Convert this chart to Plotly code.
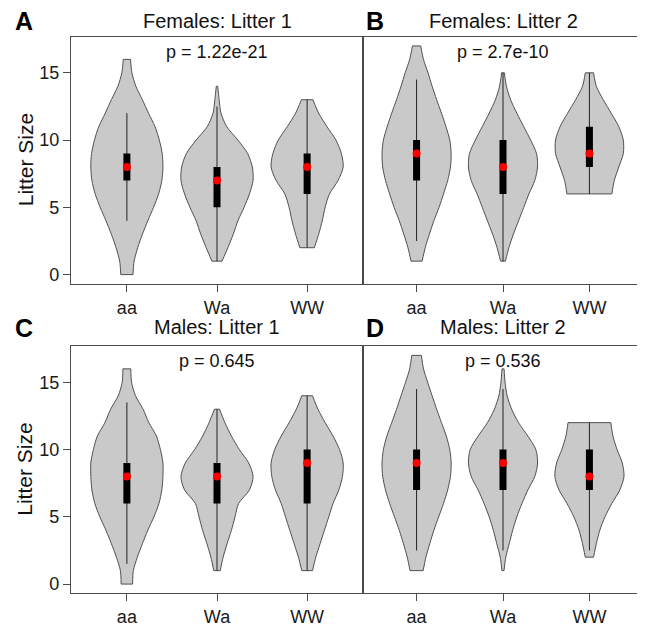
import plotly.graph_objects as go

# the page body has an 8px default margin, so the figure is drawn 8px in from the corner
OFF = 8
W, H = 645 - OFF, 627 - OFF

genotypes = ["aa", "Wa", "WW"]
panel_letters = ["A", "B", "C", "D"]
panel_titles = ["Females: Litter 1", "Females: Litter 2", "Males: Litter 1", "Males: Litter 2"]
p_labels = ["p = 1.22e-21", "p = 2.7e-10", "p = 0.645", "p = 0.536"]
y_ticks = [0, 5, 10, 15]

# violin range (min, max litter size) per panel, per genotype
vio_min = [[0, 1, 2], [1, 1, 6], [0, 1, 1], [1, 1, 2]]
vio_max = [[16, 14, 13], [17, 15, 15], [16, 13, 14], [17, 16, 12]]

# relative half-width of each violin at integer litter sizes (from min to max)
dens_A_aa = [0.17, 0.20, 0.30, 0.43, 0.58, 0.74, 0.88, 0.97, 1.00, 0.98, 0.90, 0.78, 0.60, 0.43, 0.25, 0.14, 0.10]
dens_A_Wa = [0.14, 0.30, 0.45, 0.58, 0.75, 0.90, 1.00, 0.98, 0.85, 0.58, 0.27, 0.11, 0.06, 0.02]
dens_A_WW = [0.20, 0.32, 0.42, 0.50, 0.62, 0.86, 1.00, 0.95, 0.80, 0.55, 0.32, 0.16]
dens_B_aa = [0.16, 0.25, 0.37, 0.50, 0.65, 0.78, 0.90, 0.98, 1.00, 0.96, 0.85, 0.72, 0.58, 0.45, 0.33, 0.20, 0.12]
dens_B_Wa = [0.07, 0.17, 0.30, 0.45, 0.60, 0.75, 0.92, 1.00, 0.97, 0.80, 0.60, 0.40, 0.22, 0.10, 0.04]
dens_B_WW = [0.65, 0.72, 0.85, 0.98, 0.98, 0.85, 0.63, 0.40, 0.20, 0.12]
dens_C_aa = [0.16, 0.18, 0.29, 0.43, 0.58, 0.75, 0.89, 0.97, 1.00, 1.00, 0.93, 0.82, 0.61, 0.45, 0.24, 0.13, 0.11]
dens_C_Wa = [0.09, 0.17, 0.28, 0.40, 0.50, 0.60, 0.90, 1.00, 0.88, 0.62, 0.40, 0.22, 0.07]
dens_C_WW = [0.15, 0.24, 0.36, 0.48, 0.60, 0.72, 0.88, 0.98, 1.00, 0.90, 0.72, 0.50, 0.30, 0.15]
dens_D_aa = [0.19, 0.27, 0.38, 0.50, 0.64, 0.78, 0.90, 0.98, 1.00, 0.96, 0.86, 0.72, 0.58, 0.45, 0.32, 0.20, 0.14]
dens_D_Wa = [0.03, 0.08, 0.18, 0.28, 0.40, 0.55, 0.72, 0.92, 1.00, 0.95, 0.72, 0.45, 0.25, 0.12, 0.06, 0.03]
dens_D_WW = [0.12, 0.20, 0.30, 0.45, 0.65, 0.88, 1.00, 0.95, 0.80, 0.68, 0.62]

densities = [
    [dens_A_aa, dens_A_Wa, dens_A_WW],
    [dens_B_aa, dens_B_Wa, dens_B_WW],
    [dens_C_aa, dens_C_Wa, dens_C_WW],
    [dens_D_aa, dens_D_Wa, dens_D_WW],
]

# box statistics per panel, per genotype
medians = [[8, 7, 8], [9, 8, 9], [8, 8, 9], [9, 9, 8]]
q1s = [[7, 5, 6], [7, 6, 8], [6, 6, 6], [7, 7, 7]]
q3s = [[9, 8, 9], [10, 10, 11], [9, 9, 10], [10, 10, 10]]
whisk_lo = [[4, 1, 2], [2.5, 1, 6], [1.5, 1, 1], [2.5, 2.5, 2.5]]
whisk_hi = [[12, 12.5, 13], [14.5, 15, 15], [13.5, 13, 14], [14.5, 14.5, 12]]

# ---- layout (pixel geometry in the reference picture) ----
col_x = [(71, 363), (363, 643)]
row_y = [(37, 286), (349, 598)]
FONT = "Liberation Sans, Arial, Helvetica, sans-serif"
MAXW = 0.4
FRAME = "#4a4a4a"
OUTLINE = "#505050"
FILL = "#C9C9C9"


def px(x):
    return (x - OFF) / W


def py(y):
    return 1 - (y - OFF) / H


fig = go.Figure()
layout_axes = {}
annotations = []

for k in range(4):
    r, c = divmod(k, 2)
    sfx = "" if k == 0 else str(k + 1)
    xa, ya = "x" + sfx, "y" + sfx
    x0, x1 = col_x[c]
    y0, y1 = row_y[r]
    layout_axes["xaxis" + sfx] = dict(
        domain=[px(x0), px(x1)], anchor=ya, range=[0.38, 3.62],
        tickmode="array", tickvals=[1, 2, 3], ticktext=genotypes,
        showline=True, mirror=True, linecolor=FRAME, linewidth=1.3,
        ticks="outside", ticklen=7, tickcolor=FRAME, tickwidth=1,
        tickfont=dict(size=18, color="#1a1a1a", family=FONT),
        showgrid=False, zeroline=False, fixedrange=True,
    )
    layout_axes["yaxis" + sfx] = dict(
        domain=[py(y1), py(y0)], anchor=xa, range=[-0.68, 17.68],
        tickmode="array", tickvals=y_ticks, ticktext=[str(v) for v in y_ticks],
        showticklabels=(c == 0), ticks="outside" if c == 0 else "",
        ticklen=7, tickcolor=FRAME, tickwidth=1,
        showline=True, mirror=True, linecolor=FRAME, linewidth=1.3,
        tickfont=dict(size=18, color="#1a1a1a", family=FONT),
        showgrid=False, zeroline=False, fixedrange=True,
    )
    for g in range(3):
        pos = g + 1
        dens = densities[k][g]
        levels = list(range(vio_min[k][g], vio_max[k][g] + 1))
        left = [pos - MAXW * d for d in dens]
        right = [pos + MAXW * d for d in dens]
        line_style = dict(color=OUTLINE, width=1, shape="spline", smoothing=0.8)
        fig.add_trace(go.Scatter(
            x=left, y=levels, mode="lines", line=line_style,
            xaxis=xa, yaxis=ya, hoverinfo="skip", showlegend=False))
        fig.add_trace(go.Scatter(
            x=right, y=levels, mode="lines", line=line_style,
            fill="tonextx", fillcolor=FILL,
            xaxis=xa, yaxis=ya, hoverinfo="skip", showlegend=False))
        # flat ends of the violin
        fig.add_trace(go.Scatter(
            x=[left[0], right[0], None, left[-1], right[-1]],
            y=[levels[0], levels[0], None, levels[-1], levels[-1]],
            mode="lines", line=dict(color=OUTLINE, width=1),
            xaxis=xa, yaxis=ya, hoverinfo="skip", showlegend=False))
        fig.add_trace(go.Scatter(
            x=[pos, pos], y=[whisk_lo[k][g], whisk_hi[k][g]], mode="lines",
            line=dict(color="#222222", width=1), xaxis=xa, yaxis=ya,
            hoverinfo="skip", showlegend=False))
        fig.add_trace(go.Scatter(
            x=[pos, pos], y=[q1s[k][g], q3s[k][g]], mode="lines",
            line=dict(color="black", width=7), xaxis=xa, yaxis=ya,
            hoverinfo="skip", showlegend=False))
        fig.add_trace(go.Scatter(
            x=[pos], y=[medians[k][g]], mode="markers",
            marker=dict(color="#FF0000", size=8, line=dict(width=0)),
            xaxis=xa, yaxis=ya, hoverinfo="skip", showlegend=False))

    # p-value label
    annotations.append(dict(x=2, y=16.55, xref=xa, yref=ya, text=p_labels[k],
                            showarrow=False, xanchor="center", yanchor="middle",
                            font=dict(size=18, color="#111111", family=FONT)))
    # panel title
    title_y = 21 if r == 0 else 330
    annotations.append(dict(x=px((x0 + x1) / 2), y=py(title_y), xref="paper", yref="paper",
                            text=panel_titles[k], showarrow=False, xanchor="center", yanchor="middle",
                            font=dict(size=20, color="#111111", family=FONT)))
    # panel letter
    letter_x = 24 if c == 0 else 375
    annotations.append(dict(x=px(letter_x), y=py(title_y + 0.5), xref="paper", yref="paper",
                            text="<b>" + panel_letters[k] + "</b>", showarrow=False,
                            xanchor="center", yanchor="middle",
                            font=dict(size=25, color="#000000", family=FONT)))
    # y label
    if c == 0:
        annotations.append(dict(x=px(25), y=py((y0 + y1) / 2), xref="paper", yref="paper",
                                text="Litter Size", textangle=-90, showarrow=False,
                                xanchor="center", yanchor="middle",
                                font=dict(size=21, color="#111111", family=FONT)))

fig.update_layout(
    width=W, height=H, margin=dict(l=0, r=0, t=0, b=0),
    paper_bgcolor="white", plot_bgcolor="white",
    annotations=annotations, showlegend=False, **layout_axes,
)

fig.write_html("out.html")
